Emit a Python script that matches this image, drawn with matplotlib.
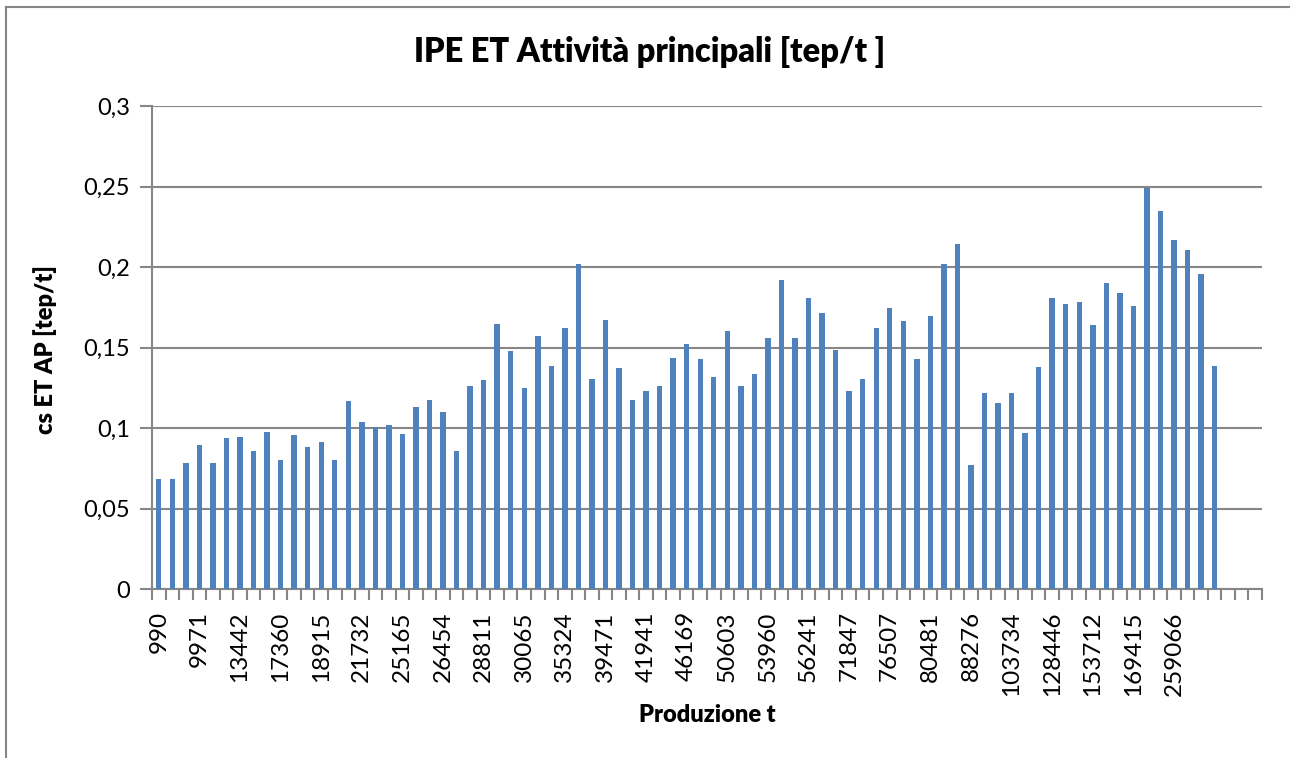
import matplotlib
matplotlib.use("Agg")
import matplotlib.pyplot as plt
from matplotlib.lines import Line2D
import numpy as np

plt.rcParams['font.family'] = ['Lato', 'DejaVu Sans']

# valori (cs ET AP [tep/t])
valori = [
    0.0682, 0.0682, 0.0782, 0.0896, 0.0782, 0.0935, 0.0943, 0.0860, 0.0976, 0.0800,
    0.0956, 0.0881, 0.0912, 0.0804, 0.1169, 0.1039, 0.1009, 0.1020, 0.0964, 0.1132,
    0.1175, 0.1099, 0.0856, 0.1262, 0.1298, 0.1644, 0.1478, 0.1248, 0.1569, 0.1385,
    0.1621, 0.2019, 0.1302, 0.1669, 0.1372, 0.1173, 0.1231, 0.1258, 0.1435, 0.1522,
    0.1428, 0.1316, 0.1602, 0.1262, 0.1333, 0.1557, 0.1920, 0.1561, 0.1810, 0.1714,
    0.1486, 0.1229, 0.1304, 0.1621, 0.1747, 0.1665, 0.1430, 0.1696, 0.2019, 0.2141,
    0.0769, 0.1215, 0.1155, 0.1215, 0.0970, 0.1381, 0.1806, 0.1768, 0.1783, 0.1642,
    0.1901, 0.1839, 0.1760, 0.2488, 0.2345, 0.2169, 0.2107, 0.1959, 0.1383,
]
n_categorie = 82  # ultime categorie vuote

# etichette visibili (una ogni 3 categorie)
etichette = ['990', '9971', '13442', '17360', '18915', '21732', '25165', '26454',
             '28811', '30065', '35324', '39471', '41941', '46169', '50603', '53960',
             '56241', '71847', '76507', '80481', '88276', '103734', '128446',
             '153712', '169415', '259066']
passo_etichette = 3

y_ticks = [0, 0.05, 0.1, 0.15, 0.2, 0.25, 0.3]
y_tick_labels = ['0', '0,05', '0,1', '0,15', '0,2', '0,25', '0,3']

grigio = '#868686'

fig = plt.figure(figsize=(12.9, 7.58), dpi=100)
ax = fig.add_axes([152 / 1290, 1 - 589 / 758, 1110 / 1290, 483 / 758])

x = np.arange(len(valori))
ax.bar(x, valori, width=0.4, color='#4F81BD', zorder=3)

ax.set_xlim(-0.5, n_categorie - 0.5)
ax.set_ylim(0, 0.3)

ax.set_yticks(y_ticks)
ax.set_yticklabels(y_tick_labels, fontsize=17)
ax.yaxis.grid(True, color=grigio, linewidth=1.5, zorder=0)

pos = np.arange(len(etichette)) * passo_etichette
ax.set_xticks(pos)
ax.set_xticklabels(etichette, rotation=90, fontsize=17.5)
ax.set_xticks(np.arange(n_categorie + 1) - 0.5, minor=True)
ax.tick_params(axis='x', which='major', length=0, pad=16)
ax.tick_params(axis='x', which='minor', length=8, width=1.5, color=grigio)
ax.tick_params(axis='y', length=9, width=1.5, color=grigio, pad=7)

for lato in ['top', 'right']:
    ax.spines[lato].set_visible(False)
for lato in ['left', 'bottom']:
    ax.spines[lato].set_color(grigio)
    ax.spines[lato].set_linewidth(1.5)

fig.text(650 / 1290, 1 - 52 / 758, 'IPE ET Attività principali [tep/t ]',
         fontsize=23.5, fontweight='heavy', ha='center', va='center')
fig.text(45 / 1290, 1 - 350 / 758, 'cs ET AP [tep/t]', rotation=90,
         fontsize=17, fontweight='heavy', ha='center', va='center')
fig.text(707 / 1290, 1 - 715 / 758, 'Produzione t',
         fontsize=17, fontweight='heavy', ha='center', va='center')

# cornice del grafico
fig.add_artist(Line2D([6 / 1290, 6 / 1290], [0, 1 - 7 / 758], color=grigio, linewidth=1.5))
fig.add_artist(Line2D([6 / 1290, 1], [1 - 7 / 758, 1 - 7 / 758], color=grigio, linewidth=1.5))

fig.savefig('out.png', dpi=100)
